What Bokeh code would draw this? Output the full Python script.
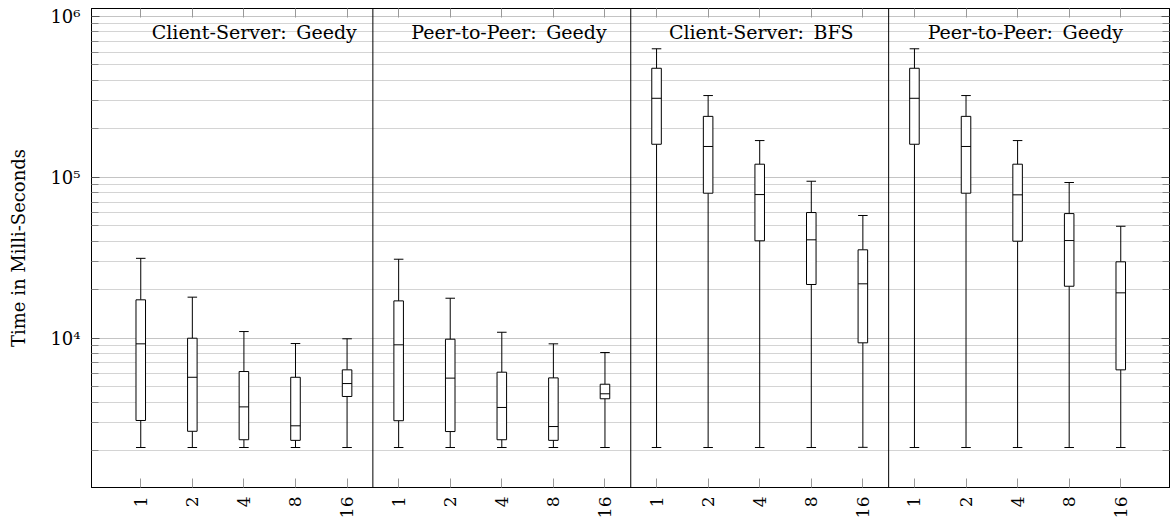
import math
from bokeh.plotting import figure
from bokeh.models import Range1d, FixedTicker, LogAxis, LinearAxis, Span, ColumnDataSource
from bokeh.embed import file_html
from bokeh.resources import INLINE
from bokeh.core.properties import value

# ---------------- data ----------------
panel_titles = ["Client-Server:\u2002Geedy", "Peer-to-Peer:\u2002Geedy",
                "Client-Server:\u2002BFS", "Peer-to-Peer:\u2002Geedy"]
threads = ["1", "2", "4", "8", "16"]

# panel 1: Client-Server Geedy
p1_hi = [31300, 17950, 10970, 9240, 9890]
p1_q3 = [17280, 9970, 6190, 5700, 6340]
p1_med = [9200, 5700, 3730, 2845, 5210]
p1_q1 = [3070, 2630, 2330, 2310, 4330]
p1_lo = [2085, 2085, 2085, 2085, 2085]

# panel 2: Peer-to-Peer Geedy
p2_hi = [30900, 17680, 10860, 9200, 8125]
p2_q3 = [17020, 9830, 6130, 5650, 5160]
p2_med = [9070, 5630, 3700, 2815, 4500]
p2_q1 = [3060, 2620, 2330, 2310, 4190]
p2_lo = [2085, 2085, 2085, 2085, 2085]

# panel 3: Client-Server BFS
p3_hi = [629000, 322000, 169000, 94400, 57800]
p3_q3 = [476000, 239000, 120500, 60300, 35370]
p3_med = [309600, 155300, 78000, 40800, 21730]
p3_q1 = [160300, 79550, 40230, 21520, 9335]
p3_lo = [2085, 2085, 2085, 2085, 2090]

# panel 4: Peer-to-Peer Geedy
p4_hi = [629000, 322000, 169000, 92700, 49550]
p4_q3 = [476000, 239000, 120500, 59400, 29780]
p4_med = [309600, 155300, 77700, 40360, 19100]
p4_q1 = [160300, 79550, 40000, 20990, 6340]
p4_lo = [2085, 2085, 2085, 2085, 2085]

major_ticks = [1e4, 1e5, 1e6]
major_labels = ["10\u2074", "10\u2075", "10\u2076"]

# ---------------- layout constants ----------------
n_per = len(threads)
box_w = 0.185
title_x = [2.2, 7.14, 12.03, 17.15]
title_y = 8.05e5
panel_bounds = [n_per * (i + 1) - 0.5 for i in range(len(panel_titles) - 1)]

his = [p1_hi, p2_hi, p3_hi, p4_hi]
q3s = [p1_q3, p2_q3, p3_q3, p4_q3]
meds = [p1_med, p2_med, p3_med, p4_med]
q1s = [p1_q1, p2_q1, p3_q1, p4_q1]
los = [p1_lo, p2_lo, p3_lo, p4_lo]

xs, hi, q3, med, q1, lo = [], [], [], [], [], []
for i in range(len(panel_titles)):
    for j in range(n_per):
        xs.append(i * n_per + j)
        hi.append(his[i][j]); q3.append(q3s[i][j]); med.append(meds[i][j])
        q1.append(q1s[i][j]); lo.append(los[i][j])

src = ColumnDataSource(dict(
    x=xs, hi=hi, q3=q3, med=med, q1=q1, lo=lo,
    left=[x - box_w / 2 for x in xs], right=[x + box_w / 2 for x in xs],
))

FONT = "DejaVu Serif"

p = figure(frame_width=1078, frame_height=479, y_axis_type="log",
           x_range=Range1d(-0.955, 19.945), y_range=Range1d(1176, 1.12e6),
           output_backend="svg", toolbar_location=None,
           min_border_left=91, min_border_right=1, min_border_top=8, min_border_bottom=36)
p.background_fill_color = "white"
p.border_fill_color = "white"
p.outline_line_color = "black"

minor = [m * 10 ** k for k in range(3, 7) for m in range(2, 10)]
yticker = FixedTicker(ticks=major_ticks, minor_ticks=minor)
xticker = FixedTicker(ticks=xs)

# left axis
ya = p.yaxis[0]
ya.ticker = yticker
ya.major_label_overrides = {int(t): l for t, l in zip(major_ticks, major_labels)}
ya.major_label_text_font = FONT
ya.major_label_text_font_size = "18px"
ya.major_label_text_color = "black"
ya.major_label_standoff = 11
ya.major_tick_in = 8
ya.major_tick_out = 0
ya.minor_tick_in = 7
ya.minor_tick_out = 0
ya.major_tick_line_color = "#555555"
ya.minor_tick_line_color = "#888888"
ya.axis_line_color = "black"
ya.axis_label = "Time in Milli-Seconds"
ya.axis_label_text_font = FONT
ya.axis_label_text_font_size = "18px"
ya.axis_label_text_font_style = "normal"
ya.axis_label_text_color = "black"
ya.axis_label_standoff = 18

# bottom axis
xa = p.xaxis[0]
xa.ticker = xticker
xa.major_label_overrides = {x: threads[x % n_per] for x in xs}
xa.major_label_orientation = math.pi / 2
xa.major_label_text_font = FONT
xa.major_label_text_font_size = "17px"
xa.major_label_text_color = "black"
xa.major_label_standoff = 9
xa.major_tick_in = 9
xa.major_tick_out = 0
xa.minor_tick_line_color = None
xa.major_tick_line_color = "#999999"
xa.axis_line_color = "black"

# right axis (ticks only)
ra = LogAxis(ticker=yticker, major_label_overrides={int(t): " " for t in major_ticks},
             major_label_text_font_size="1px", major_label_text_color=None,
             major_label_standoff=0,
             major_tick_in=8, major_tick_out=0, minor_tick_in=7, minor_tick_out=0,
             major_tick_line_color="#555555", minor_tick_line_color="#888888",
             axis_line_color="black")
p.add_layout(ra, "right")

# top axis (ticks only)
ta = LinearAxis(ticker=xticker, major_label_overrides={x: " " for x in xs},
                major_label_text_font_size="1px", major_label_text_color=None,
                major_label_standoff=0,
                major_tick_in=9, major_tick_out=0, minor_tick_line_color=None,
                major_tick_line_color="#999999", axis_line_color="black")
p.add_layout(ta, "above")

# grid
p.xgrid.visible = False
p.ygrid.grid_line_color = "#c4c4c4"
p.ygrid.minor_grid_line_color = "#d4d4d4"

# panel separators
for b in panel_bounds:
    p.add_layout(Span(location=b, dimension="height", line_color="black", line_width=1))

# whiskers
p.segment(x0="x", y0="q3", x1="x", y1="hi", source=src, line_color="black", line_width=1)
p.segment(x0="x", y0="q1", x1="x", y1="lo", source=src, line_color="black", line_width=1)
p.segment(x0="left", y0="hi", x1="right", y1="hi", source=src, line_color="black", line_width=1)
p.segment(x0="left", y0="lo", x1="right", y1="lo", source=src, line_color="black", line_width=1)
# boxes
p.quad(left="left", right="right", bottom="q1", top="q3", source=src,
       fill_color="white", line_color="black", line_width=1)
p.segment(x0="left", y0="med", x1="right", y1="med", source=src, line_color="black", line_width=1)

# panel titles
p.text(x=title_x, y=[title_y] * len(title_x), text=panel_titles,
       text_font=value(FONT), text_font_size="19px", text_color="black",
       text_align="center", text_baseline="middle")

open("out.html", "w").write(file_html(p, INLINE))
